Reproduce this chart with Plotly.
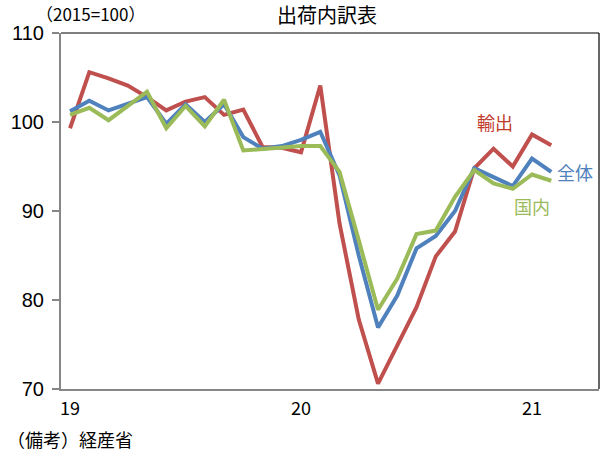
import plotly.graph_objects as go

# Monthly index, Jan 2019 .. Feb 2021
months = list(range(26))
export_vals = [99.3, 105.6, 104.9, 104.1, 102.8, 101.3, 102.3, 102.8, 100.8, 101.4,
               97.2, 97.1, 96.6, 104.1, 88.6, 77.8, 70.6, 74.9, 79.2, 84.9,
               87.7, 94.8, 97.0, 95.0, 98.6, 97.4]
total_vals = [101.2, 102.4, 101.3, 102.0, 102.8, 99.8, 102.0, 100.0, 102.0, 98.3,
              97.0, 97.3, 98.0, 98.9, 94.0, 85.0, 76.9, 80.5, 85.8, 87.2,
              90.0, 94.8, 93.8, 92.8, 95.9, 94.4]
domestic_vals = [100.8, 101.6, 100.2, 101.8, 103.4, 99.3, 101.8, 99.5, 102.5, 96.8,
                 97.0, 97.2, 97.3, 97.3, 94.4, 86.7, 78.9, 82.4, 87.4, 87.8,
                 91.6, 94.6, 93.1, 92.5, 94.1, 93.4]
x_tickvals = [0, 12, 24]
x_ticktext = ["19", "20", "21"]
y_tickvals = [70, 80, 90, 100, 110]

RED = "#C0504D"
BLUE = "#4F81BD"
GREEN = "#9BBB59"
JP = "Noto Sans CJK JP"

fig = go.Figure()
fig.add_trace(go.Scatter(x=months, y=export_vals, mode="lines", name="輸出",
                         line=dict(color=RED, width=4)))
fig.add_trace(go.Scatter(x=months, y=total_vals, mode="lines", name="全体",
                         line=dict(color=BLUE, width=4)))
fig.add_trace(go.Scatter(x=months, y=domestic_vals, mode="lines", name="国内",
                         line=dict(color=GREEN, width=4)))

fig.update_layout(
    width=610, height=451,
    margin=dict(l=61, r=11, t=33, b=62, autoexpand=False),
    paper_bgcolor="white", plot_bgcolor="white",
    showlegend=False,
    xaxis=dict(range=[-0.47, 27.48], tickvals=x_tickvals, ticktext=x_ticktext,
               automargin=False,
               showgrid=False, zeroline=False, showline=True, linecolor="#868686",
               linewidth=2, ticks="", tickfont=dict(family=JP, size=18, color="black"),
               ticklabelstandoff=2),
    yaxis=dict(range=[70, 110], tickvals=y_tickvals, showgrid=False, zeroline=False,
               automargin=False,
               showline=True, linecolor="#868686", linewidth=2, ticks="outside",
               ticklen=7, tickcolor="#868686", tickwidth=1.5,
               tickfont=dict(family="Liberation Sans", size=20, color="black"),
               ticklabelstandoff=4),
    shapes=[
        dict(type="line", xref="paper", yref="paper", x0=0, x1=1, y0=1, y1=1,
             line=dict(color="black", width=1.2)),
        dict(type="line", xref="paper", yref="paper", x0=1, x1=1, y0=0, y1=1,
             line=dict(color="black", width=1.2)),
    ],
    annotations=[
        dict(text="出荷内訳表", xref="paper", yref="paper", x=(327 - 61) / 538,
             y=1 + (33 - 15) / 356, showarrow=False, xanchor="center", yanchor="middle",
             font=dict(family=JP, size=20, color="black")),
        dict(text="（2015=100）", xref="paper", yref="paper", x=(34 - 61) / 538,
             y=1 + (33 - 13) / 356, showarrow=False, xanchor="left", yanchor="middle",
             font=dict(family=JP, size=17, color="black")),
        dict(text="（備考）経産省", xref="paper", yref="paper", x=-56 / 538,
             y=-(439 - 389) / 356, showarrow=False, xanchor="left", yanchor="middle",
             font=dict(family=JP, size=18, color="black")),
        dict(text="輸出", xref="paper", yref="paper", x=(495 - 61) / 538,
             y=(389 - 122) / 356, showarrow=False, xanchor="center", yanchor="middle",
             font=dict(family=JP, size=18, color="#C0392B")),
        dict(text="全体", xref="paper", yref="paper", x=(575 - 61) / 538,
             y=(389 - 172) / 356, showarrow=False, xanchor="center", yanchor="middle",
             font=dict(family=JP, size=18, color=BLUE)),
        dict(text="国内", xref="paper", yref="paper", x=(532 - 61) / 538,
             y=(389 - 206) / 356, showarrow=False, xanchor="center", yanchor="middle",
             font=dict(family=JP, size=18, color=GREEN)),
    ],
)

fig.write_html("out.html", config={"displayModeBar": False},
               post_script="document.body.style.margin='0';document.body.style.overflow='hidden';")
